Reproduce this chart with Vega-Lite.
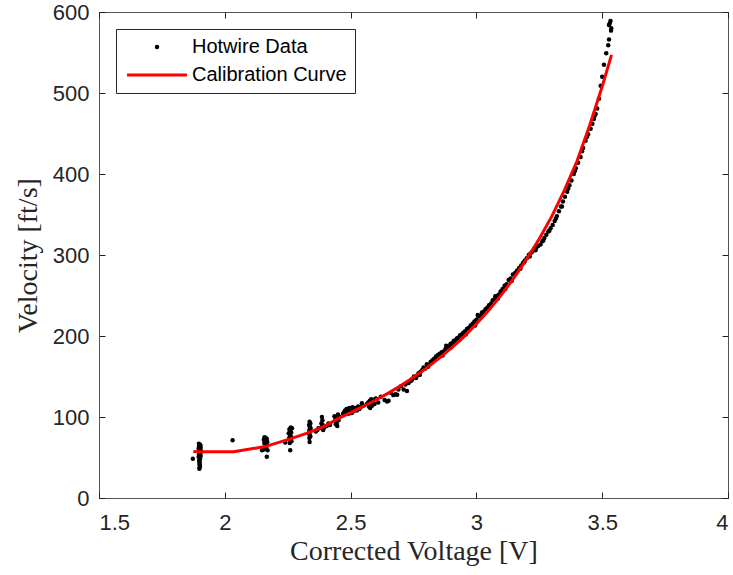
{
  "$schema": "https://vega.github.io/schema/vega-lite/v6.json",
  "width": 629,
  "height": 486,
  "autosize": {"type": "none"},
  "padding": {"left": 99, "top": 12, "right": 5, "bottom": 77},
  "background": "white",
  "config": {
    "view": {"stroke": "#555555", "strokeWidth": 1},
    "axis": {
      "grid": false,
      "domain": false,
      "offset": -6,
      "ticks": true,
      "tickColor": "#222222",
      "tickWidth": 1,
      "tickSize": 6,
      "labelFont": "Liberation Sans",
      "labelFontSize": 22,
      "labelColor": "#262626",
      "titleFont": "Liberation Serif",
      "titleFontSize": 28,
      "titleFontWeight": "normal",
      "titleColor": "#262626"
    }
  },
  "datasets": {
    "hotwire": [
      {"v":1.873,"u":48.5,"series":"Hotwire Data"},
      {"v":1.897,"u":67,"series":"Hotwire Data"},{"v":1.900,"u":66,"series":"Hotwire Data"},{"v":1.903,"u":65,"series":"Hotwire Data"},{"v":1.898,"u":64,"series":"Hotwire Data"},{"v":1.901,"u":63,"series":"Hotwire Data"},{"v":1.904,"u":62,"series":"Hotwire Data"},{"v":1.896,"u":61,"series":"Hotwire Data"},{"v":1.899,"u":60,"series":"Hotwire Data"},{"v":1.902,"u":59,"series":"Hotwire Data"},{"v":1.905,"u":58,"series":"Hotwire Data"},{"v":1.897,"u":57,"series":"Hotwire Data"},{"v":1.900,"u":56,"series":"Hotwire Data"},{"v":1.903,"u":55,"series":"Hotwire Data"},{"v":1.898,"u":54,"series":"Hotwire Data"},{"v":1.901,"u":53,"series":"Hotwire Data"},{"v":1.904,"u":52,"series":"Hotwire Data"},{"v":1.896,"u":51,"series":"Hotwire Data"},{"v":1.899,"u":50,"series":"Hotwire Data"},{"v":1.902,"u":48,"series":"Hotwire Data"},{"v":1.898,"u":46,"series":"Hotwire Data"},{"v":1.900,"u":44,"series":"Hotwire Data"},{"v":1.899,"u":42,"series":"Hotwire Data"},{"v":1.901,"u":40,"series":"Hotwire Data"},{"v":1.900,"u":38,"series":"Hotwire Data"},{"v":1.899,"u":36,"series":"Hotwire Data"},
      {"v":2.031,"u":71.4,"series":"Hotwire Data"},
      {"v":2.158,"u":75,"series":"Hotwire Data"},{"v":2.163,"u":74,"series":"Hotwire Data"},{"v":2.167,"u":73,"series":"Hotwire Data"},{"v":2.155,"u":72,"series":"Hotwire Data"},{"v":2.160,"u":71,"series":"Hotwire Data"},{"v":2.165,"u":70,"series":"Hotwire Data"},{"v":2.169,"u":69,"series":"Hotwire Data"},{"v":2.157,"u":68,"series":"Hotwire Data"},{"v":2.162,"u":66,"series":"Hotwire Data"},{"v":2.166,"u":64,"series":"Hotwire Data"},{"v":2.159,"u":62,"series":"Hotwire Data"},{"v":2.154,"u":60,"series":"Hotwire Data"},{"v":2.170,"u":59,"series":"Hotwire Data"},{"v":2.148,"u":59,"series":"Hotwire Data"},{"v":2.163,"u":61,"series":"Hotwire Data"},{"v":2.167,"u":51,"series":"Hotwire Data"},
      {"v":2.262,"u":87,"series":"Hotwire Data"},{"v":2.267,"u":86,"series":"Hotwire Data"},{"v":2.257,"u":85,"series":"Hotwire Data"},{"v":2.260,"u":83,"series":"Hotwire Data"},{"v":2.264,"u":81,"series":"Hotwire Data"},{"v":2.254,"u":80,"series":"Hotwire Data"},{"v":2.259,"u":78,"series":"Hotwire Data"},{"v":2.263,"u":76,"series":"Hotwire Data"},{"v":2.256,"u":74,"series":"Hotwire Data"},{"v":2.261,"u":72,"series":"Hotwire Data"},{"v":2.265,"u":70,"series":"Hotwire Data"},{"v":2.240,"u":68.5,"series":"Hotwire Data"},{"v":2.258,"u":68,"series":"Hotwire Data"},{"v":2.260,"u":59,"series":"Hotwire Data"},
      {"v":2.337,"u":94,"series":"Hotwire Data"},{"v":2.340,"u":92,"series":"Hotwire Data"},{"v":2.335,"u":90,"series":"Hotwire Data"},{"v":2.338,"u":88,"series":"Hotwire Data"},{"v":2.341,"u":86,"series":"Hotwire Data"},{"v":2.336,"u":84,"series":"Hotwire Data"},{"v":2.339,"u":82,"series":"Hotwire Data"},{"v":2.334,"u":80,"series":"Hotwire Data"},{"v":2.337,"u":78,"series":"Hotwire Data"},{"v":2.340,"u":76,"series":"Hotwire Data"},{"v":2.336,"u":74,"series":"Hotwire Data"},{"v":2.337,"u":69,"series":"Hotwire Data"},
      {"v":2.362,"u":82,"series":"Hotwire Data"},{"v":2.368,"u":84,"series":"Hotwire Data"},{"v":2.372,"u":86,"series":"Hotwire Data"},
      {"v":2.386,"u":100,"series":"Hotwire Data"},{"v":2.388,"u":96,"series":"Hotwire Data"},{"v":2.384,"u":92,"series":"Hotwire Data"},{"v":2.389,"u":90,"series":"Hotwire Data"},{"v":2.387,"u":88,"series":"Hotwire Data"},{"v":2.385,"u":86,"series":"Hotwire Data"},{"v":2.391,"u":84,"series":"Hotwire Data"},{"v":2.395,"u":87,"series":"Hotwire Data"},
      {"v":2.405,"u":89,"series":"Hotwire Data"},{"v":2.412,"u":92,"series":"Hotwire Data"},{"v":2.418,"u":90,"series":"Hotwire Data"},
      {"v":2.436,"u":101,"series":"Hotwire Data"},{"v":2.440,"u":99,"series":"Hotwire Data"},{"v":2.443,"u":97,"series":"Hotwire Data"},{"v":2.438,"u":95,"series":"Hotwire Data"},{"v":2.445,"u":93,"series":"Hotwire Data"},{"v":2.441,"u":91,"series":"Hotwire Data"},{"v":2.447,"u":89,"series":"Hotwire Data"},{"v":2.450,"u":103,"series":"Hotwire Data"},{"v":2.455,"u":100,"series":"Hotwire Data"},{"v":2.452,"u":96,"series":"Hotwire Data"},
      {"v":2.470,"u":104,"series":"Hotwire Data"},{"v":2.474,"u":106,"series":"Hotwire Data"},{"v":2.478,"u":108,"series":"Hotwire Data"},{"v":2.481,"u":105,"series":"Hotwire Data"},{"v":2.484,"u":110,"series":"Hotwire Data"},{"v":2.487,"u":107,"series":"Hotwire Data"},{"v":2.490,"u":109,"series":"Hotwire Data"},{"v":2.492,"u":104,"series":"Hotwire Data"},{"v":2.495,"u":111,"series":"Hotwire Data"},{"v":2.497,"u":106,"series":"Hotwire Data"},{"v":2.500,"u":108,"series":"Hotwire Data"},{"v":2.503,"u":110,"series":"Hotwire Data"},{"v":2.505,"u":105,"series":"Hotwire Data"},{"v":2.508,"u":112,"series":"Hotwire Data"},{"v":2.511,"u":107,"series":"Hotwire Data"},{"v":2.515,"u":109,"series":"Hotwire Data"},{"v":2.520,"u":111,"series":"Hotwire Data"},{"v":2.525,"u":108,"series":"Hotwire Data"},{"v":2.530,"u":113,"series":"Hotwire Data"},{"v":2.535,"u":110,"series":"Hotwire Data"},{"v":2.540,"u":112,"series":"Hotwire Data"},{"v":2.545,"u":117,"series":"Hotwire Data"},{"v":2.550,"u":114,"series":"Hotwire Data"},
      {"v":2.565,"u":116,"series":"Hotwire Data"},{"v":2.570,"u":118,"series":"Hotwire Data"},{"v":2.573,"u":113,"series":"Hotwire Data"},{"v":2.576,"u":120,"series":"Hotwire Data"},{"v":2.578,"u":111,"series":"Hotwire Data"},{"v":2.580,"u":117,"series":"Hotwire Data"},{"v":2.582,"u":122,"series":"Hotwire Data"},{"v":2.585,"u":114,"series":"Hotwire Data"},{"v":2.587,"u":119,"series":"Hotwire Data"},{"v":2.590,"u":121,"series":"Hotwire Data"},{"v":2.595,"u":116,"series":"Hotwire Data"},{"v":2.600,"u":123,"series":"Hotwire Data"},{"v":2.610,"u":118,"series":"Hotwire Data"},{"v":2.620,"u":125,"series":"Hotwire Data"},
      {"v":2.635,"u":121,"series":"Hotwire Data"},{"v":2.645,"u":119,"series":"Hotwire Data"},{"v":2.651,"u":120,"series":"Hotwire Data"},{"v":2.660,"u":130,"series":"Hotwire Data"},{"v":2.670,"u":127,"series":"Hotwire Data"},{"v":2.678,"u":128,"series":"Hotwire Data"},{"v":2.685,"u":127.6,"series":"Hotwire Data"},{"v":2.690,"u":134,"series":"Hotwire Data"},{"v":2.700,"u":138,"series":"Hotwire Data"},{"v":2.711,"u":134,"series":"Hotwire Data"},{"v":2.718,"u":140,"series":"Hotwire Data"},{"v":2.724,"u":132,"series":"Hotwire Data"},{"v":2.730,"u":142,"series":"Hotwire Data"},
      {"v":2.737,"u":144,"series":"Hotwire Data"},{"v":2.742,"u":145,"series":"Hotwire Data"},{"v":2.745,"u":147,"series":"Hotwire Data"},{"v":2.752,"u":150,"series":"Hotwire Data"},{"v":2.760,"u":148,"series":"Hotwire Data"},{"v":2.764,"u":151,"series":"Hotwire Data"},{"v":2.770,"u":154,"series":"Hotwire Data"},{"v":2.775,"u":152,"series":"Hotwire Data"},{"v":2.778,"u":156,"series":"Hotwire Data"},{"v":2.785,"u":158,"series":"Hotwire Data"},{"v":2.790,"u":161,"series":"Hotwire Data"},{"v":2.797,"u":160,"series":"Hotwire Data"},{"v":2.803,"u":165,"series":"Hotwire Data"},{"v":2.808,"u":162,"series":"Hotwire Data"},{"v":2.810,"u":164,"series":"Hotwire Data"},{"v":2.818,"u":168,"series":"Hotwire Data"},{"v":2.825,"u":170,"series":"Hotwire Data"},{"v":2.832,"u":172,"series":"Hotwire Data"},{"v":2.836,"u":171,"series":"Hotwire Data"},{"v":2.840,"u":175,"series":"Hotwire Data"},{"v":2.848,"u":177,"series":"Hotwire Data"},
      {"v":2.855,"u":178,"series":"Hotwire Data"},{"v":2.862,"u":180,"series":"Hotwire Data"},{"v":2.866,"u":176,"series":"Hotwire Data"},{"v":2.870,"u":181,"series":"Hotwire Data"},{"v":2.877,"u":184,"series":"Hotwire Data"},{"v":2.880,"u":188,"series":"Hotwire Data"},{"v":2.884,"u":186,"series":"Hotwire Data"},{"v":2.890,"u":187,"series":"Hotwire Data"},{"v":2.897,"u":190,"series":"Hotwire Data"},{"v":2.900,"u":186,"series":"Hotwire Data"},{"v":2.903,"u":191,"series":"Hotwire Data"},{"v":2.910,"u":194,"series":"Hotwire Data"},{"v":2.913,"u":191,"series":"Hotwire Data"},{"v":2.916,"u":194,"series":"Hotwire Data"},{"v":2.922,"u":197,"series":"Hotwire Data"},{"v":2.928,"u":198,"series":"Hotwire Data"},{"v":2.932,"u":195,"series":"Hotwire Data"},{"v":2.935,"u":201,"series":"Hotwire Data"},{"v":2.942,"u":202,"series":"Hotwire Data"},{"v":2.948,"u":204,"series":"Hotwire Data"},{"v":2.955,"u":206,"series":"Hotwire Data"},{"v":2.958,"u":202,"series":"Hotwire Data"},{"v":2.963,"u":209,"series":"Hotwire Data"},{"v":2.970,"u":210,"series":"Hotwire Data"},{"v":2.977,"u":213,"series":"Hotwire Data"},{"v":2.985,"u":215,"series":"Hotwire Data"},{"v":2.992,"u":218,"series":"Hotwire Data"},{"v":2.995,"u":213,"series":"Hotwire Data"},{"v":3.000,"u":220,"series":"Hotwire Data"},{"v":3.005,"u":226,"series":"Hotwire Data"},{"v":3.008,"u":224,"series":"Hotwire Data"},{"v":3.015,"u":225,"series":"Hotwire Data"},{"v":3.022,"u":229,"series":"Hotwire Data"},{"v":3.025,"u":226,"series":"Hotwire Data"},{"v":3.029,"u":230,"series":"Hotwire Data"},{"v":3.036,"u":233,"series":"Hotwire Data"},{"v":3.043,"u":235,"series":"Hotwire Data"},{"v":3.050,"u":238,"series":"Hotwire Data"},{"v":3.055,"u":236,"series":"Hotwire Data"},{"v":3.058,"u":240,"series":"Hotwire Data"},{"v":3.065,"u":244,"series":"Hotwire Data"},{"v":3.072,"u":245,"series":"Hotwire Data"},{"v":3.075,"u":249,"series":"Hotwire Data"},{"v":3.080,"u":249,"series":"Hotwire Data"},{"v":3.085,"u":246,"series":"Hotwire Data"},{"v":3.088,"u":251,"series":"Hotwire Data"},{"v":3.096,"u":255,"series":"Hotwire Data"},{"v":3.104,"u":258,"series":"Hotwire Data"},{"v":3.112,"u":262,"series":"Hotwire Data"},{"v":3.115,"u":258,"series":"Hotwire Data"},{"v":3.120,"u":264,"series":"Hotwire Data"},{"v":3.128,"u":269,"series":"Hotwire Data"},{"v":3.136,"u":271,"series":"Hotwire Data"},{"v":3.140,"u":268,"series":"Hotwire Data"},{"v":3.145,"u":276,"series":"Hotwire Data"},{"v":3.155,"u":278,"series":"Hotwire Data"},
      {"v":3.162,"u":281,"series":"Hotwire Data"},{"v":3.170,"u":284,"series":"Hotwire Data"},{"v":3.175,"u":283,"series":"Hotwire Data"},{"v":3.178,"u":287,"series":"Hotwire Data"},{"v":3.185,"u":290,"series":"Hotwire Data"},{"v":3.190,"u":291,"series":"Hotwire Data"},{"v":3.192,"u":293,"series":"Hotwire Data"},{"v":3.200,"u":296,"series":"Hotwire Data"},{"v":3.208,"u":300,"series":"Hotwire Data"},{"v":3.212,"u":298,"series":"Hotwire Data"},{"v":3.215,"u":302,"series":"Hotwire Data"},{"v":3.222,"u":304,"series":"Hotwire Data"},{"v":3.230,"u":307,"series":"Hotwire Data"},{"v":3.235,"u":306,"series":"Hotwire Data"},{"v":3.238,"u":309,"series":"Hotwire Data"},{"v":3.246,"u":311,"series":"Hotwire Data"},{"v":3.255,"u":313,"series":"Hotwire Data"},{"v":3.262,"u":317,"series":"Hotwire Data"},{"v":3.266,"u":318,"series":"Hotwire Data"},{"v":3.270,"u":321,"series":"Hotwire Data"},{"v":3.278,"u":325,"series":"Hotwire Data"},{"v":3.286,"u":329,"series":"Hotwire Data"},{"v":3.290,"u":330,"series":"Hotwire Data"},{"v":3.295,"u":333,"series":"Hotwire Data"},{"v":3.303,"u":337,"series":"Hotwire Data"},{"v":3.311,"u":342,"series":"Hotwire Data"},{"v":3.316,"u":345,"series":"Hotwire Data"},{"v":3.320,"u":348,"series":"Hotwire Data"},{"v":3.328,"u":354,"series":"Hotwire Data"},{"v":3.336,"u":360,"series":"Hotwire Data"},{"v":3.340,"u":360,"series":"Hotwire Data"},{"v":3.344,"u":366,"series":"Hotwire Data"},{"v":3.352,"u":372,"series":"Hotwire Data"},{"v":3.361,"u":378,"series":"Hotwire Data"},{"v":3.365,"u":382,"series":"Hotwire Data"},{"v":3.370,"u":386,"series":"Hotwire Data"},{"v":3.378,"u":392,"series":"Hotwire Data"},{"v":3.387,"u":400,"series":"Hotwire Data"},{"v":3.392,"u":404,"series":"Hotwire Data"},{"v":3.395,"u":407,"series":"Hotwire Data"},{"v":3.404,"u":414,"series":"Hotwire Data"},{"v":3.414,"u":421,"series":"Hotwire Data"},{"v":3.420,"u":428,"series":"Hotwire Data"},{"v":3.424,"u":432,"series":"Hotwire Data"},{"v":3.434,"u":441,"series":"Hotwire Data"},{"v":3.440,"u":446,"series":"Hotwire Data"},{"v":3.444,"u":449,"series":"Hotwire Data"},{"v":3.454,"u":456,"series":"Hotwire Data"},{"v":3.461,"u":462,"series":"Hotwire Data"},{"v":3.467,"u":468,"series":"Hotwire Data"},{"v":3.470,"u":472,"series":"Hotwire Data"},{"v":3.474,"u":474,"series":"Hotwire Data"},{"v":3.480,"u":481,"series":"Hotwire Data"},{"v":3.487,"u":493,"series":"Hotwire Data"},{"v":3.494,"u":509,"series":"Hotwire Data"},{"v":3.500,"u":520,"series":"Hotwire Data"},{"v":3.507,"u":535,"series":"Hotwire Data"},{"v":3.516,"u":549,"series":"Hotwire Data"},{"v":3.524,"u":559,"series":"Hotwire Data"},{"v":3.527,"u":566,"series":"Hotwire Data"},{"v":3.535,"u":577,"series":"Hotwire Data"},{"v":3.530,"u":586,"series":"Hotwire Data"},{"v":3.527,"u":584,"series":"Hotwire Data"},{"v":3.533,"u":589,"series":"Hotwire Data"},{"v":3.536,"u":580,"series":"Hotwire Data"}
    ],
    "calibration": [
      {"v":1.875,"u":57.5,"series":"Calibration Curve"},
      {"v":1.900,"u":57,"series":"Calibration Curve"},
      {"v":2.035,"u":57,"series":"Calibration Curve"},
      {"v":2.160,"u":63.5,"series":"Calibration Curve"},
      {"v":2.260,"u":73,"series":"Calibration Curve"},
      {"v":2.333,"u":80.7,"series":"Calibration Curve"},
      {"v":2.400,"u":89,"series":"Calibration Curve"},
      {"v":2.450,"u":98,"series":"Calibration Curve"},
      {"v":2.500,"u":105.5,"series":"Calibration Curve"},
      {"v":2.550,"u":113,"series":"Calibration Curve"},
      {"v":2.600,"u":121,"series":"Calibration Curve"},
      {"v":2.650,"u":129.5,"series":"Calibration Curve"},
      {"v":2.700,"u":139,"series":"Calibration Curve"},
      {"v":2.750,"u":149,"series":"Calibration Curve"},
      {"v":2.800,"u":160,"series":"Calibration Curve"},
      {"v":2.850,"u":172,"series":"Calibration Curve"},
      {"v":2.900,"u":185,"series":"Calibration Curve"},
      {"v":2.950,"u":199,"series":"Calibration Curve"},
      {"v":3.000,"u":215,"series":"Calibration Curve"},
      {"v":3.050,"u":232,"series":"Calibration Curve"},
      {"v":3.100,"u":251,"series":"Calibration Curve"},
      {"v":3.150,"u":272,"series":"Calibration Curve"},
      {"v":3.200,"u":295,"series":"Calibration Curve"},
      {"v":3.250,"u":320,"series":"Calibration Curve"},
      {"v":3.300,"u":348,"series":"Calibration Curve"},
      {"v":3.350,"u":380,"series":"Calibration Curve"},
      {"v":3.400,"u":416,"series":"Calibration Curve"},
      {"v":3.450,"u":460,"series":"Calibration Curve"},
      {"v":3.500,"u":508,"series":"Calibration Curve"},
      {"v":3.537,"u":547,"series":"Calibration Curve"}
    ]
  },
  "layer": [
    {
      "data": {"name": "hotwire"},
      "mark": {"type": "point", "filled": true, "size": 20, "opacity": 1},
      "encoding": {
        "x": {"field": "v", "type": "quantitative",
              "scale": {"domain": [1.5, 4], "nice": false, "zero": false},
              "axis": {"orient": "bottom", "title": "Corrected Voltage [V]", "values": [1.5, 2, 2.5, 3, 3.5, 4], "format": "~g", "labelPadding": 14, "titlePadding": 4}},
        "y": {"field": "u", "type": "quantitative",
              "scale": {"domain": [0, 600], "nice": false},
              "axis": {"orient": "left", "title": "Velocity [ft/s]", "values": [0, 100, 200, 300, 400, 500, 600], "labelPadding": 10, "titlePadding": 10}},
        "fill": {"field": "series", "type": "nominal",
                 "scale": {"domain": ["Hotwire Data", "Calibration Curve"], "range": ["black", "transparent"]},
                 "legend": {
                   "title": null, "orient": "top-left", "offset": 17,
                   "fillColor": "white", "strokeColor": "#262626",
                   "padding": 8, "rowPadding": 8,
                   "symbolSize": 20, "symbolStrokeWidth": 3, "symbolOffset": 23,
                   "labelFont": "Liberation Sans", "labelFontSize": 20, "labelColor": "black", "labelOffset": 25,
                   "labelLimit": 300
                 }},
        "stroke": {"field": "series", "type": "nominal",
                   "scale": {"domain": ["Hotwire Data", "Calibration Curve"], "range": ["transparent", "red"]},
                   "legend": {
                     "title": null, "orient": "top-left", "offset": 17,
                     "fillColor": "white", "strokeColor": "#262626",
                     "padding": 8, "rowPadding": 8,
                     "symbolSize": 20, "symbolStrokeWidth": 3, "symbolOffset": 23,
                     "labelFont": "Liberation Sans", "labelFontSize": 20, "labelColor": "black", "labelOffset": 25,
                     "labelLimit": 300
                   }},
        "shape": {"field": "series", "type": "nominal",
                  "scale": {"domain": ["Hotwire Data", "Calibration Curve"], "range": ["circle", "M-13.4,0L13.4,0"]},
                  "legend": {
                    "title": null, "orient": "top-left", "offset": 17,
                    "fillColor": "white", "strokeColor": "#262626",
                    "padding": 8, "rowPadding": 8,
                    "symbolSize": 20, "symbolStrokeWidth": 3, "symbolOffset": 23,
                    "labelFont": "Liberation Sans", "labelFontSize": 20, "labelColor": "black", "labelOffset": 25,
                    "labelLimit": 300
                  }}
      }
    },
    {
      "data": {"name": "calibration"},
      "mark": {"type": "line", "strokeWidth": 3},
      "encoding": {
        "x": {"field": "v", "type": "quantitative",
              "axis": {"orient": "top", "title": null, "labels": false, "values": [1.5, 2, 2.5, 3, 3.5, 4]}},
        "y": {"field": "u", "type": "quantitative",
              "axis": {"orient": "right", "title": null, "labels": false, "values": [0, 100, 200, 300, 400, 500, 600]}},
        "stroke": {"field": "series", "type": "nominal"}
      }
    }
  ],
  "resolve": {"axis": {"x": "independent", "y": "independent"}}
}
